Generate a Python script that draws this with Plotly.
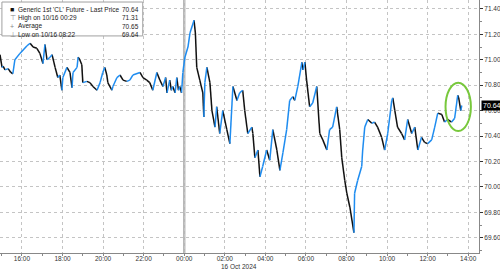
import plotly.graph_objects as go

# ---- data ----
times = [
    "2024-10-15 14:55", "2024-10-15 15:01", "2024-10-15 15:04", "2024-10-15 15:10", "2024-10-15 15:19",
    "2024-10-15 15:27", "2024-10-15 15:33", "2024-10-15 15:39", "2024-10-15 15:54", "2024-10-15 16:15",
    "2024-10-15 16:24", "2024-10-15 16:33", "2024-10-15 16:44", "2024-10-15 16:53", "2024-10-15 17:02",
    "2024-10-15 17:08", "2024-10-15 17:14", "2024-10-15 17:23", "2024-10-15 17:29", "2024-10-15 17:38",
    "2024-10-15 17:46", "2024-10-15 17:52", "2024-10-15 17:58", "2024-10-15 18:01", "2024-10-15 18:13",
    "2024-10-15 18:22", "2024-10-15 18:28", "2024-10-15 18:31", "2024-10-15 18:43", "2024-10-15 18:46",
    "2024-10-15 18:51", "2024-10-15 18:57", "2024-10-15 19:00", "2024-10-15 19:12", "2024-10-15 19:21",
    "2024-10-15 19:30", "2024-10-15 19:42", "2024-10-15 19:51", "2024-10-15 19:59", "2024-10-15 20:05",
    "2024-10-15 20:11", "2024-10-15 20:14", "2024-10-15 20:26", "2024-10-15 20:29", "2024-10-15 20:41",
    "2024-10-15 20:50", "2024-10-15 20:59", "2024-10-15 21:10", "2024-10-15 21:19", "2024-10-15 21:28",
    "2024-10-15 21:49", "2024-10-15 21:58", "2024-10-15 22:09", "2024-10-15 22:18", "2024-10-15 22:27",
    "2024-10-15 22:39", "2024-10-15 22:48", "2024-10-15 22:57", "2024-10-15 23:05", "2024-10-15 23:09",
    "2024-10-15 23:17", "2024-10-15 23:22", "2024-10-15 23:26", "2024-10-15 23:33", "2024-10-15 23:38",
    "2024-10-15 23:43", "2024-10-15 23:47", "2024-10-15 23:52", "2024-10-15 23:56",
    "2024-10-16 00:02", "2024-10-16 00:11", "2024-10-16 00:17", "2024-10-16 00:29", "2024-10-16 00:33",
    "2024-10-16 00:37", "2024-10-16 00:46", "2024-10-16 00:55", "2024-10-16 00:58", "2024-10-16 01:01",
    "2024-10-16 01:07", "2024-10-16 01:16", "2024-10-16 01:22", "2024-10-16 01:31", "2024-10-16 01:36",
    "2024-10-16 01:45", "2024-10-16 01:54", "2024-10-16 02:06", "2024-10-16 02:15", "2024-10-16 02:24",
    "2024-10-16 02:36", "2024-10-16 02:44", "2024-10-16 02:53", "2024-10-16 02:59", "2024-10-16 03:08",
    "2024-10-16 03:20", "2024-10-16 03:23", "2024-10-16 03:29", "2024-10-16 03:38", "2024-10-16 03:44",
    "2024-10-16 03:52", "2024-10-16 04:04", "2024-10-16 04:13", "2024-10-16 04:22", "2024-10-16 04:34",
    "2024-10-16 04:43", "2024-10-16 04:52", "2024-10-16 05:03", "2024-10-16 05:12", "2024-10-16 05:21",
    "2024-10-16 05:27", "2024-10-16 05:36", "2024-10-16 05:48", "2024-10-16 05:51", "2024-10-16 05:57",
    "2024-10-16 06:02", "2024-10-16 06:11", "2024-10-16 06:20", "2024-10-16 06:32", "2024-10-16 06:41",
    "2024-10-16 06:50", "2024-10-16 07:02", "2024-10-16 07:10", "2024-10-16 07:19", "2024-10-16 07:31",
    "2024-10-16 07:40", "2024-10-16 07:46", "2024-10-16 07:55", "2024-10-16 08:01", "2024-10-16 08:10",
    "2024-10-16 08:22", "2024-10-16 08:24", "2024-10-16 08:33", "2024-10-16 08:45", "2024-10-16 08:48",
    "2024-10-16 08:54", "2024-10-16 09:03", "2024-10-16 09:15", "2024-10-16 09:23", "2024-10-16 09:32",
    "2024-10-16 09:44", "2024-10-16 09:53", "2024-10-16 10:02", "2024-10-16 10:14", "2024-10-16 10:17",
    "2024-10-16 10:23", "2024-10-16 10:31", "2024-10-16 10:43", "2024-10-16 10:52", "2024-10-16 11:01",
    "2024-10-16 11:13", "2024-10-16 11:22", "2024-10-16 11:31", "2024-10-16 11:42", "2024-10-16 11:51",
    "2024-10-16 12:00", "2024-10-16 12:12", "2024-10-16 12:21", "2024-10-16 12:30", "2024-10-16 12:42",
    "2024-10-16 12:50", "2024-10-16 12:59", "2024-10-16 13:11", "2024-10-16 13:20", "2024-10-16 13:29",
    "2024-10-16 13:32", "2024-10-16 13:38", "2024-10-16 13:41",
]
prices = [
    71.04, 70.94, 70.95, 70.92, 70.93,
    70.90, 70.89, 71.00, 71.05, 71.11,
    71.13, 71.10, 71.09, 71.05, 70.97,
    71.12, 71.00, 71.02, 71.04, 70.94,
    70.86, 70.88, 70.76, 70.86, 70.94,
    70.90, 70.78, 70.90, 70.94, 71.02,
    71.00, 70.96, 70.82, 70.83, 70.82,
    70.79, 70.76, 70.82, 70.90, 70.94,
    70.88, 70.82, 70.76, 70.79, 70.86,
    70.88, 70.84, 70.83, 70.84, 70.88,
    70.90, 70.86, 70.84, 70.82, 70.76,
    70.90, 70.84, 70.79, 70.86, 70.74,
    70.84, 70.76, 70.79, 70.74, 70.86,
    70.76, 70.79, 70.74, 70.90,
    71.02, 71.10, 71.21, 71.31, 71.21,
    70.94, 70.84, 70.74, 70.55, 70.82,
    70.94, 70.82, 70.60, 70.47, 70.63,
    70.42, 70.60, 70.45, 70.34, 70.79,
    70.68, 70.74, 70.76, 70.60, 70.42,
    70.47, 70.42, 70.23, 70.29, 70.08,
    70.16, 70.29, 70.21, 70.45, 70.29,
    70.13, 70.27, 70.45, 70.68, 70.71,
    70.68, 70.79, 70.98, 70.92, 70.98,
    70.84, 70.63, 70.66, 70.79, 70.42,
    70.37, 70.29, 70.45, 70.47, 70.63,
    70.45, 70.23, 70.05, 69.95, 69.84,
    69.64, 69.95, 70.05, 70.16, 70.29,
    70.47, 70.53, 70.50, 70.51, 70.47,
    70.39, 70.29, 70.42, 70.68, 70.70,
    70.60, 70.47, 70.42, 70.37, 70.53,
    70.42, 70.47, 70.29, 70.39, 70.35,
    70.34, 70.37, 70.47, 70.58, 70.57,
    70.51, 70.53, 70.51, 70.54, 70.72,
    70.70, 70.60, 70.64,
]

y_tick_vals = [69.6, 69.8, 70.0, 70.2, 70.4, 70.6, 70.8, 71.0, 71.2, 71.4]
y_tick_text = ["69.60", "69.80", "70.00", "70.20", "70.40", "70.60", "70.80", "71.00", "71.20", "71.40"]

legend_labels = ["Generic 1st 'CL' Future - Last Price", "High on 10/16 00:29", "Average", "Low on 10/16 08:22"]
legend_values = ["70.64", "71.31", "70.65", "69.64"]
last_price = 70.64
date_label = "16 Oct 2024"

BLUE = "#1e8cf0"
BLACK = "#111111"
FONT = "Liberation Sans"

# split into rising (blue) and falling (black) segments
ux, uy, dx, dy = [], [], [], []
for i in range(len(prices) - 1):
    if prices[i + 1] >= prices[i]:
        ux += [times[i], times[i + 1], None]
        uy += [prices[i], prices[i + 1], None]
    else:
        dx += [times[i], times[i + 1], None]
        dy += [prices[i], prices[i + 1], None]

fig = go.Figure()
fig.add_trace(go.Scatter(x=dx, y=dy, mode="lines", line=dict(color=BLACK, width=1.5),
                         showlegend=False, hoverinfo="skip"))
fig.add_trace(go.Scatter(x=ux, y=uy, mode="lines", line=dict(color=BLUE, width=1.5),
                         showlegend=False, hoverinfo="skip"))

# midnight separator
fig.add_shape(type="line", xref="x", yref="paper", x0="2024-10-16 00:00", x1="2024-10-16 00:00",
              y0=0, y1=1, line=dict(color="#b8b8b8", width=2.5), layer="below")

# green ellipse
fig.add_shape(type="circle", xref="x", yref="y", x0="2024-10-16 12:53", x1="2024-10-16 14:08",
              y0=70.44, y1=70.82, line=dict(color="#78c83c", width=2))

# legend box
fig.add_shape(type="rect", xref="paper", yref="paper", x0=0.004, x1=0.298, y0=0.858, y1=0.992,
              line=dict(color="#a0a0a0", width=1), fillcolor="white", layer="above")
leg_y = [0.963, 0.930, 0.896, 0.863]
symbols = ["■", "⊤", "+", "⊥"]
for lab, val, yy, sym in zip(legend_labels, legend_values, leg_y, symbols):
    fig.add_annotation(xref="paper", yref="paper", x=0.016, y=yy, text=sym, showarrow=False,
                       xanchor="left", yanchor="middle",
                       font=dict(family=FONT, size=7, color=BLACK if sym == "■" else "#888888"))
    fig.add_annotation(xref="paper", yref="paper", x=0.034, y=yy, text=lab, showarrow=False,
                       xanchor="left", yanchor="middle", font=dict(family=FONT, size=6.5, color="#222222"))
    fig.add_annotation(xref="paper", yref="paper", x=0.294, y=yy, text=val, showarrow=False,
                       xanchor="right", yanchor="middle", font=dict(family=FONT, size=6.5, color="#222222"))

# last price tag
fig.add_annotation(xref="paper", yref="y", x=1.005, y=last_price, text=f"{last_price:.2f}",
                   showarrow=False, xanchor="left", yanchor="middle", bgcolor="black",
                   font=dict(family=FONT, size=7, color="white"), borderpad=1)

# date label
fig.add_annotation(xref="x", yref="paper", x="2024-10-16 01:42", y=-0.03, text=date_label,
                   showarrow=False, xanchor="left", yanchor="top",
                   font=dict(family=FONT, size=6.5, color="#333333"))

fig.update_layout(
    width=500, height=270,
    margin=dict(l=0, r=21, t=0, b=17),
    paper_bgcolor="white", plot_bgcolor="white",
    showlegend=False,
    xaxis=dict(
        type="date",
        range=["2024-10-15 14:55", "2024-10-16 14:32"],
        tickformat="%H:%M", dtick=2 * 3600 * 1000, tick0="2024-10-15 00:00",
        showgrid=True, gridcolor="#c4c4c4", griddash="dot", gridwidth=1,
        showline=True, linecolor="#888888", linewidth=1,
        ticks="outside", ticklen=2, tickcolor="#888888",
        ticklabelstandoff=-3,
        minor=dict(dtick=3600 * 1000, ticks="outside", ticklen=2, tickcolor="#888888", showgrid=False),
        tickfont=dict(family=FONT, size=6.5, color="#333333"),
        zeroline=False,
    ),
    yaxis=dict(
        side="right", range=[69.48, 71.47],
        tickvals=y_tick_vals, ticktext=y_tick_text,
        showgrid=True, gridcolor="#c4c4c4", griddash="dot", gridwidth=1,
        showline=True, linecolor="#888888", linewidth=1,
        ticks="outside", ticklen=3, tickcolor="#333333",
        minor=dict(dtick=0.1, ticks="outside", ticklen=2, tickcolor="#888888", showgrid=False),
        tickfont=dict(family=FONT, size=6.5, color="#333333"),
        zeroline=False,
    ),
)

fig.write_html("out.html")
